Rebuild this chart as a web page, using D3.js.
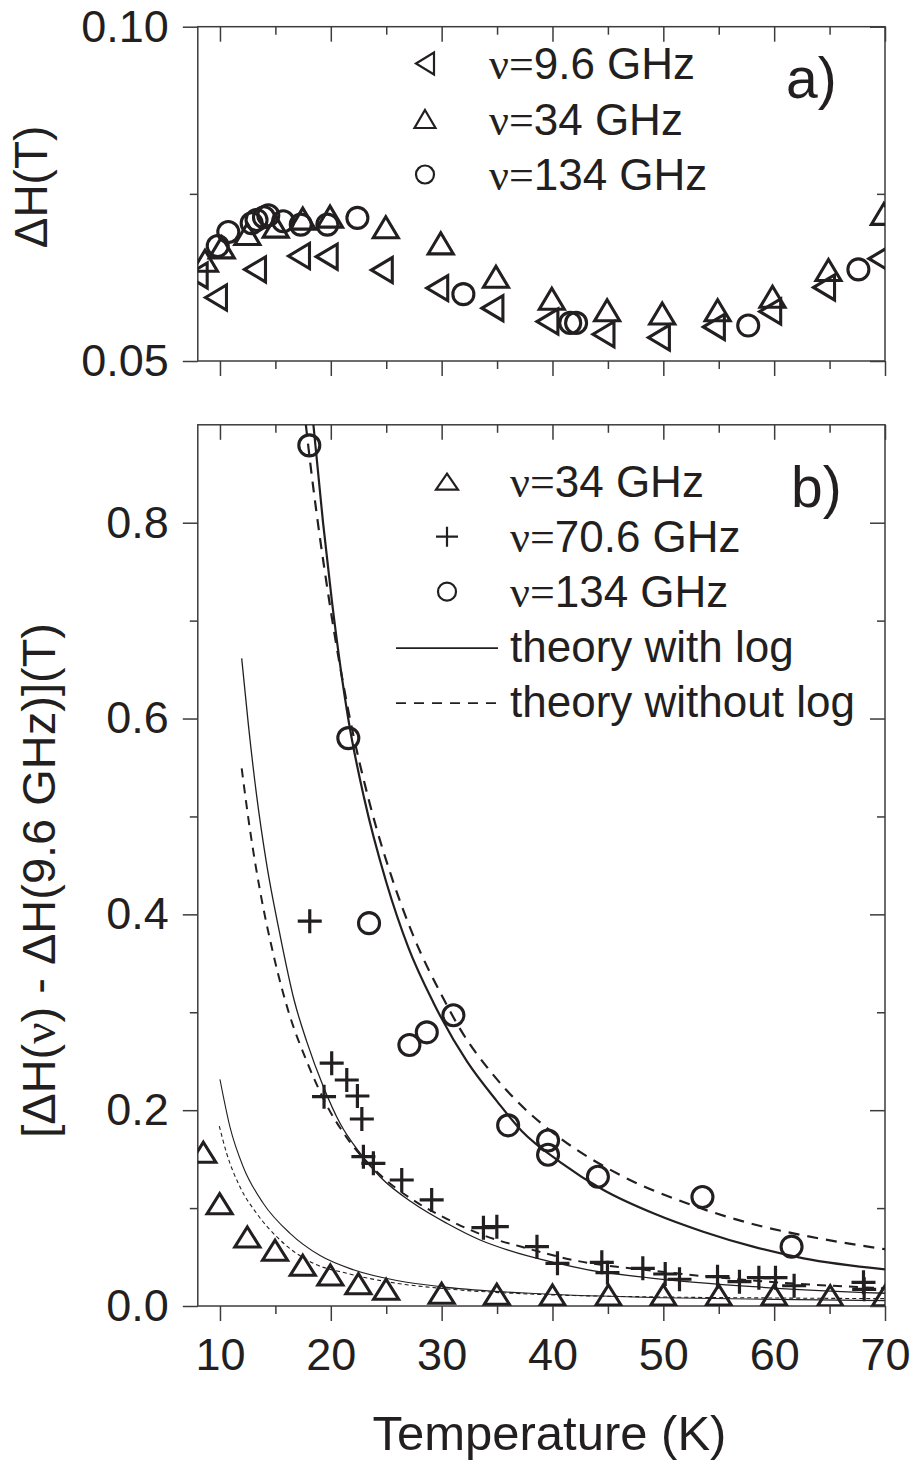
<!DOCTYPE html>
<html>
<head>
<meta charset="utf-8">
<script src="https://cdn.jsdelivr.net/npm/d3@7"></script>
<style>
	body { margin: 0; background: #fff; }
</style>
</head>
<body>
<div id="chart-area"></div>
<script>
/*
 *    Linewidth vs temperature, two stacked panels
 */

// ---- data ----
// panel a) : [T (K), dH (T)]
var a96 = [[7.9, 0.0628], [9.64, 0.0595], [13.16, 0.0637], [17.13, 0.0657], [19.63, 0.0656], [24.6, 0.0636],
	[29.6, 0.0609], [34.58, 0.0579], [39.54, 0.0559], [44.6, 0.0540], [49.6, 0.0535], [54.56, 0.0551],
	[59.64, 0.0574], [64.5, 0.0610], [69.5, 0.0653]];
var a34 = [[8.65, 0.0650], [10.16, 0.0670], [12.47, 0.0690], [15.03, 0.0701], [17.47, 0.0713], [19.93, 0.0716],
	[24.96, 0.0700], [29.92, 0.0676], [34.9, 0.0626], [39.94, 0.0593], [44.93, 0.0576], [49.9, 0.0571],
	[54.9, 0.0576], [59.85, 0.0596], [64.9, 0.0636], [69.9, 0.0720]];
var a134 = [[9.8, 0.0672], [10.75, 0.0693], [12.86, 0.0706], [13.3, 0.0711], [13.97, 0.0715], [14.36, 0.0718],
	[15.7, 0.0709], [17.29, 0.0704], [19.69, 0.0704], [22.4, 0.0714], [31.96, 0.0600], [41.6, 0.0557],
	[42.13, 0.0557], [57.66, 0.0553], [67.6, 0.0637]];

// panel b) : [T (K), dH(nu) - dH(9.6 GHz) (T)]
var b34 = [[8.5, 0.157], [9.97, 0.1045], [12.47, 0.0705], [14.97, 0.0569], [17.47, 0.0416], [19.96, 0.0317],
	[22.49, 0.0228], [24.99, 0.0171], [30, 0.013], [34.98, 0.012], [40, 0.0112], [45.05, 0.0112], [50, 0.0112],
	[55, 0.0112], [60, 0.0112], [65.06, 0.0105], [70, 0.0105]];
var b706 = [[18.1, 0.393], [20.08, 0.248], [21.44, 0.2308], [19.39, 0.2138], [22.4, 0.2145], [22.8, 0.191],
	[22.94, 0.1525], [23.84, 0.1457], [26.4, 0.1287], [29.1, 0.1083], [33.77, 0.080], [34.98, 0.081],
	[38.6, 0.0606], [40.45, 0.0436], [44.45, 0.0446], [44.96, 0.034], [48.15, 0.0385], [50.17, 0.0327],
	[51.46, 0.0273], [54.89, 0.0299], [56.87, 0.0248], [58.62, 0.0289], [60.12, 0.0289], [61.8, 0.0207],
	[68.06, 0.0242], [68.12, 0.017]];
var b134 = [[18.06, 0.879], [21.58, 0.580], [23.45, 0.391], [27.09, 0.2666], [28.66, 0.2795], [31.06, 0.297],
	[36.0, 0.1845], [39.6, 0.169], [39.6, 0.1545], [44.1, 0.132], [53.53, 0.1113], [61.57, 0.0606]];

// theory curves
var th134Log = [[18.43, 0.9], [19.3, 0.80], [20.1, 0.72], [21.6, 0.598], [23.0, 0.519], [25.0, 0.433],
	[27.0, 0.366], [29.25, 0.31], [32.27, 0.25], [35.0, 0.209], [37.2, 0.179], [40.69, 0.147], [44.6, 0.1185],
	[49.1, 0.0947], [53.6, 0.0759], [58.1, 0.0606], [62.65, 0.0487], [70, 0.0375]];
var th134NoLog = [[17.75, 0.9], [17.97, 0.878], [19.93, 0.715], [21.58, 0.608], [23.54, 0.512], [25.64, 0.433],
	[27.45, 0.378], [30.16, 0.314], [31.66, 0.283], [34.37, 0.240], [37.08, 0.206], [40.99, 0.169],
	[46.1, 0.1338], [52.12, 0.1049], [58.13, 0.0835], [64.16, 0.0688], [70, 0.058]];
var th706Log = [[11.96, 0.6615], [12.56, 0.594], [13.3, 0.522], [14.2, 0.452], [15.4, 0.38], [16.7, 0.312],
	[17.83, 0.27], [19.33, 0.224], [20.83, 0.1866], [22.64, 0.156], [24.44, 0.132], [27.45, 0.1049],
	[30.46, 0.0845], [33.47, 0.0674], [36.0, 0.057], [40.0, 0.0447], [43.1, 0.0372], [49.1, 0.0283],
	[58.1, 0.0197], [70, 0.013]];
var th706NoLog = [[11.96, 0.549], [12.7, 0.487], [13.6, 0.425], [14.8, 0.36], [16.2, 0.30], [17.83, 0.25],
	[19.63, 0.205], [21.44, 0.172], [24.44, 0.134], [27.45, 0.108], [30.46, 0.089], [33.47, 0.0735],
	[38.0, 0.058], [41.6, 0.0475], [49.1, 0.036], [58.1, 0.026], [70, 0.018]];
var th34Log = [[10.0, 0.2315], [10.9, 0.183], [12.1, 0.142], [13.9, 0.105], [16.32, 0.0742], [19.03, 0.0515],
	[22.03, 0.037], [25.95, 0.026], [30.46, 0.019], [38.88, 0.0125], [50, 0.0085], [60, 0.0068], [70, 0.0055]];
var th34NoLog = [[9.94, 0.1838], [10.6, 0.156], [11.8, 0.1218], [13.3, 0.0947], [15.42, 0.0674], [18.42, 0.0436],
	[21.44, 0.0334], [25.95, 0.0232], [30.46, 0.0175], [38.88, 0.0118], [50, 0.0092], [60, 0.0082], [70, 0.0075]];

// ticks and labels
var xMajor = [10, 20, 30, 40, 50, 60, 70];
var xMinor = [15, 25, 35, 45, 55, 65];
var yAMajor = [0.05, 0.10];
var yAMinor = [0.075];
var yBMajor = [0, 0.2, 0.4, 0.6, 0.8];
var yBMinor = [0.1, 0.3, 0.5, 0.7];
var legendALabels = ["9.6 GHz", "34 GHz", "134 GHz"];
var legendBLabels = ["34 GHz", "70.6 GHz", "134 GHz", "theory with log", "theory without log"];

// ---- layout ----
var W = 914, H = 1464;
var left = 197.8, right = 885;
var aTop = 26.7, aBottom = 361;
var bTop = 424.8, bBottom = 1306;

var font = "'Liberation Sans', Arial, Helvetica, sans-serif";
var serif = "'Liberation Serif', 'Times New Roman', serif";
var ink = "#231f20";
var frameColor = "#3c3c3c";

var x = d3.scaleLinear().domain([8, 70]).range([left, right]);
var yA = d3.scaleLinear().domain([0.05, 0.10]).range([aBottom, aTop]);
var yB = d3.scaleLinear().domain([0, 0.9]).range([bBottom, bTop]);

var svg = d3.select("#chart-area").append("svg")
	.attr("width", W)
	.attr("height", H)
	.style("display", "block");

svg.append("rect").attr("width", W).attr("height", H).attr("fill", "#fff");

var defs = svg.append("defs");
defs.append("clipPath").attr("id", "clipA").append("rect")
	.attr("x", left).attr("y", aTop).attr("width", right - left).attr("height", aBottom - aTop);
defs.append("clipPath").attr("id", "clipB").append("rect")
	.attr("x", left).attr("y", bTop).attr("width", right - left).attr("height", bBottom - bTop);

// marker shapes, centred on their bounding box
function markerPath(shape, w, h) {
	if (shape === "left") {
		return "M" + (-w / 2) + ",0L" + (w / 2) + "," + (-h / 2) + "L" + (w / 2) + "," + (h / 2) + "Z";
	}
	if (shape === "up") {
		return "M0," + (-h / 2) + "L" + (w / 2) + "," + (h / 2) + "L" + (-w / 2) + "," + (h / 2) + "Z";
	}
	if (shape === "plus") {
		return "M" + (-w / 2) + ",0H" + (w / 2) + "M0," + (-h / 2) + "V" + (h / 2);
	}
	var p = d3.path();
	p.arc(0, 0, w / 2, 0, 2 * Math.PI);
	p.closePath();
	return p.toString();
}

function addAxis(axis, tx, ty, size) {
	var ax = svg.append("g")
		.attr("transform", "translate(" + tx + "," + ty + ")")
		.call(axis);
	ax.select(".domain").remove();
	ax.attr("font-size", null).attr("font-family", null);
	ax.selectAll("line").attr("stroke", frameColor).attr("stroke-width", 1.5);
	ax.selectAll("text")
		.attr("fill", ink)
		.attr("font-size", size || 45)
		.attr("font-family", font);
	return ax;
}

function drawFrame(y, top, bottom, yMajor, yMinor, yFmt, xLabels) {
	addAxis(d3.axisBottom(x).tickValues(xMajor).tickSize(15).tickPadding(17)
		.tickFormat(xLabels ? d3.format("d") : ""), 0, bottom);
	addAxis(d3.axisBottom(x).tickValues(xMinor).tickSize(8).tickFormat(""), 0, bottom);
	addAxis(d3.axisTop(x).tickValues(xMajor).tickSize(-15).tickFormat(""), 0, top);
	addAxis(d3.axisTop(x).tickValues(xMinor).tickSize(-8).tickFormat(""), 0, top);
	addAxis(d3.axisLeft(y).tickValues(yMajor).tickSize(15).tickPadding(14).tickFormat(d3.format(yFmt)), left, 0);
	addAxis(d3.axisLeft(y).tickValues(yMinor).tickSize(8).tickFormat(""), left, 0);
	addAxis(d3.axisRight(y).tickValues(yMajor).tickSize(-15).tickFormat(""), right, 0);
	addAxis(d3.axisRight(y).tickValues(yMinor).tickSize(-8).tickFormat(""), right, 0);

	svg.append("rect")
		.attr("x", left).attr("y", top)
		.attr("width", right - left).attr("height", bottom - top)
		.attr("fill", "none")
		.attr("stroke", frameColor)
		.attr("stroke-width", 1.5);
}

function drawMarkers(g, data, y, shape, w, h, sw) {
	g.selectAll(null).data(data).enter().append("path")
		.attr("transform", function (d) {
			return "translate(" + x(d[0]) + "," + y(d[1]) + ")";
		})
		.attr("d", markerPath(shape, w, h))
		.attr("fill", "none")
		.attr("stroke", ink)
		.attr("stroke-width", sw)
		.attr("stroke-linejoin", "miter");
}

// ================= panel a =================
drawFrame(yA, aTop, aBottom, yAMajor, yAMinor, ".2f", false);

var gA = svg.append("g").attr("clip-path", "url(#clipA)");
drawMarkers(gA, a96, yA, "left", 21, 25, 3.1);
drawMarkers(gA, a34, yA, "up", 25, 21, 3.1);
drawMarkers(gA, a134, yA, "circle", 21, 21, 3.1);

svg.append("text")
	.attr("transform", "translate(47,187) rotate(-90)")
	.attr("text-anchor", "middle")
	.attr("font-family", font)
	.attr("font-size", 46)
	.attr("fill", ink)
	.text("\u0394H(T)");

// legend a
var legA = svg.append("g");
var legAShapes = ["left", "up", "circle"];
legendALabels.forEach(function (lab, i) {
	var by = 79 + i * 55.5;
	var shape = legAShapes[i];
	var w = shape === "left" ? 18 : 21;
	var h = shape === "left" ? 22 : (shape === "up" ? 18 : 21);
	if (shape === "circle") { w = 18; h = 18; }
	legA.append("path")
		.attr("transform", "translate(425," + (by - 15.5) + ")")
		.attr("d", markerPath(shape, w, h))
		.attr("fill", "none")
		.attr("stroke", ink)
		.attr("stroke-width", 2.2);
	var t = legA.append("text")
		.attr("x", 489).attr("y", by)
		.attr("font-family", font)
		.attr("font-size", 44)
		.attr("fill", ink);
	t.append("tspan").attr("font-family", serif).text("\u03bd=");
	t.append("tspan").text(lab);
});

svg.append("text")
	.attr("x", 786).attr("y", 98)
	.attr("font-family", font)
	.attr("font-size", 57)
	.attr("fill", ink)
	.text("a)");

// ================= panel b =================
drawFrame(yB, bTop, bBottom, yBMajor, yBMinor, ".1f", true);

var line = d3.line()
	.x(function (d) { return x(d[0]); })
	.y(function (d) { return yB(d[1]); })
	.curve(d3.curveMonotoneX);

var curves = [
	{ data: th34Log, width: 1.1, dash: null },
	{ data: th34NoLog, width: 1.1, dash: "4,3" },
	{ data: th706Log, width: 1.3, dash: null },
	{ data: th706NoLog, width: 2, dash: "9,7" },
	{ data: th134Log, width: 2.2, dash: null },
	{ data: th134NoLog, width: 2.2, dash: "11,8" }
];

var gB = svg.append("g").attr("clip-path", "url(#clipB)");
gB.selectAll(".curve").data(curves).enter().append("path")
	.attr("class", "curve")
	.attr("d", function (c) { return line(c.data); })
	.attr("fill", "none")
	.attr("stroke", ink)
	.attr("stroke-width", function (c) { return c.width; })
	.attr("stroke-dasharray", function (c) { return c.dash; });

drawMarkers(gB, b34, yB, "up", 25, 20, 3.1);
drawMarkers(gB, b706, yB, "plus", 24, 24, 3.2);
drawMarkers(gB, b134, yB, "circle", 21, 21, 3.1);

var yTitle = svg.append("text")
	.attr("transform", "translate(55," + ((bTop + bBottom) / 2 + 15) + ") rotate(-90)")
	.attr("text-anchor", "middle")
	.attr("font-family", font)
	.attr("font-size", 47)
	.attr("fill", ink);
yTitle.append("tspan").text("[\u0394H(");
yTitle.append("tspan").attr("font-family", serif).text("\u03bd");
yTitle.append("tspan").text(") - \u0394H(9.6 GHz)](T)");

svg.append("text")
	.attr("x", (left + right) / 2 + 8).attr("y", 1450)
	.attr("text-anchor", "middle")
	.attr("font-family", font)
	.attr("font-size", 49)
	.attr("fill", ink)
	.text("Temperature (K)");

// legend b
var legB = svg.append("g");
var legBShapes = ["up", "plus", "circle", "solid", "dashed"];
legendBLabels.forEach(function (lab, i) {
	var by = 496.7 + i * 55;
	var shape = legBShapes[i];
	if (shape === "solid" || shape === "dashed") {
		legB.append("line")
			.attr("x1", 396).attr("x2", 498)
			.attr("y1", by - 13.5).attr("y2", by - 13.5)
			.attr("stroke", ink)
			.attr("stroke-width", 1.8)
			.attr("stroke-dasharray", shape === "dashed" ? "10,8" : null);
	} else {
		var w = shape === "up" ? 22 : (shape === "plus" ? 22 : 18);
		var h = shape === "up" ? 16 : (shape === "plus" ? 20 : 18);
		legB.append("path")
			.attr("transform", "translate(447," + (by - 15) + ")")
			.attr("d", markerPath(shape, w, h))
			.attr("fill", "none")
			.attr("stroke", ink)
			.attr("stroke-width", 2.2);
	}
	var t = legB.append("text")
		.attr("x", 510).attr("y", by)
		.attr("font-family", font)
		.attr("font-size", 44)
		.attr("fill", ink);
	if (i < 3) {
		t.append("tspan").attr("font-family", serif).text("\u03bd=");
	}
	t.append("tspan").text(lab);
});

svg.append("text")
	.attr("x", 791).attr("y", 507)
	.attr("font-family", font)
	.attr("font-size", 57)
	.attr("fill", ink)
	.text("b)");
</script>
</body>
</html>
